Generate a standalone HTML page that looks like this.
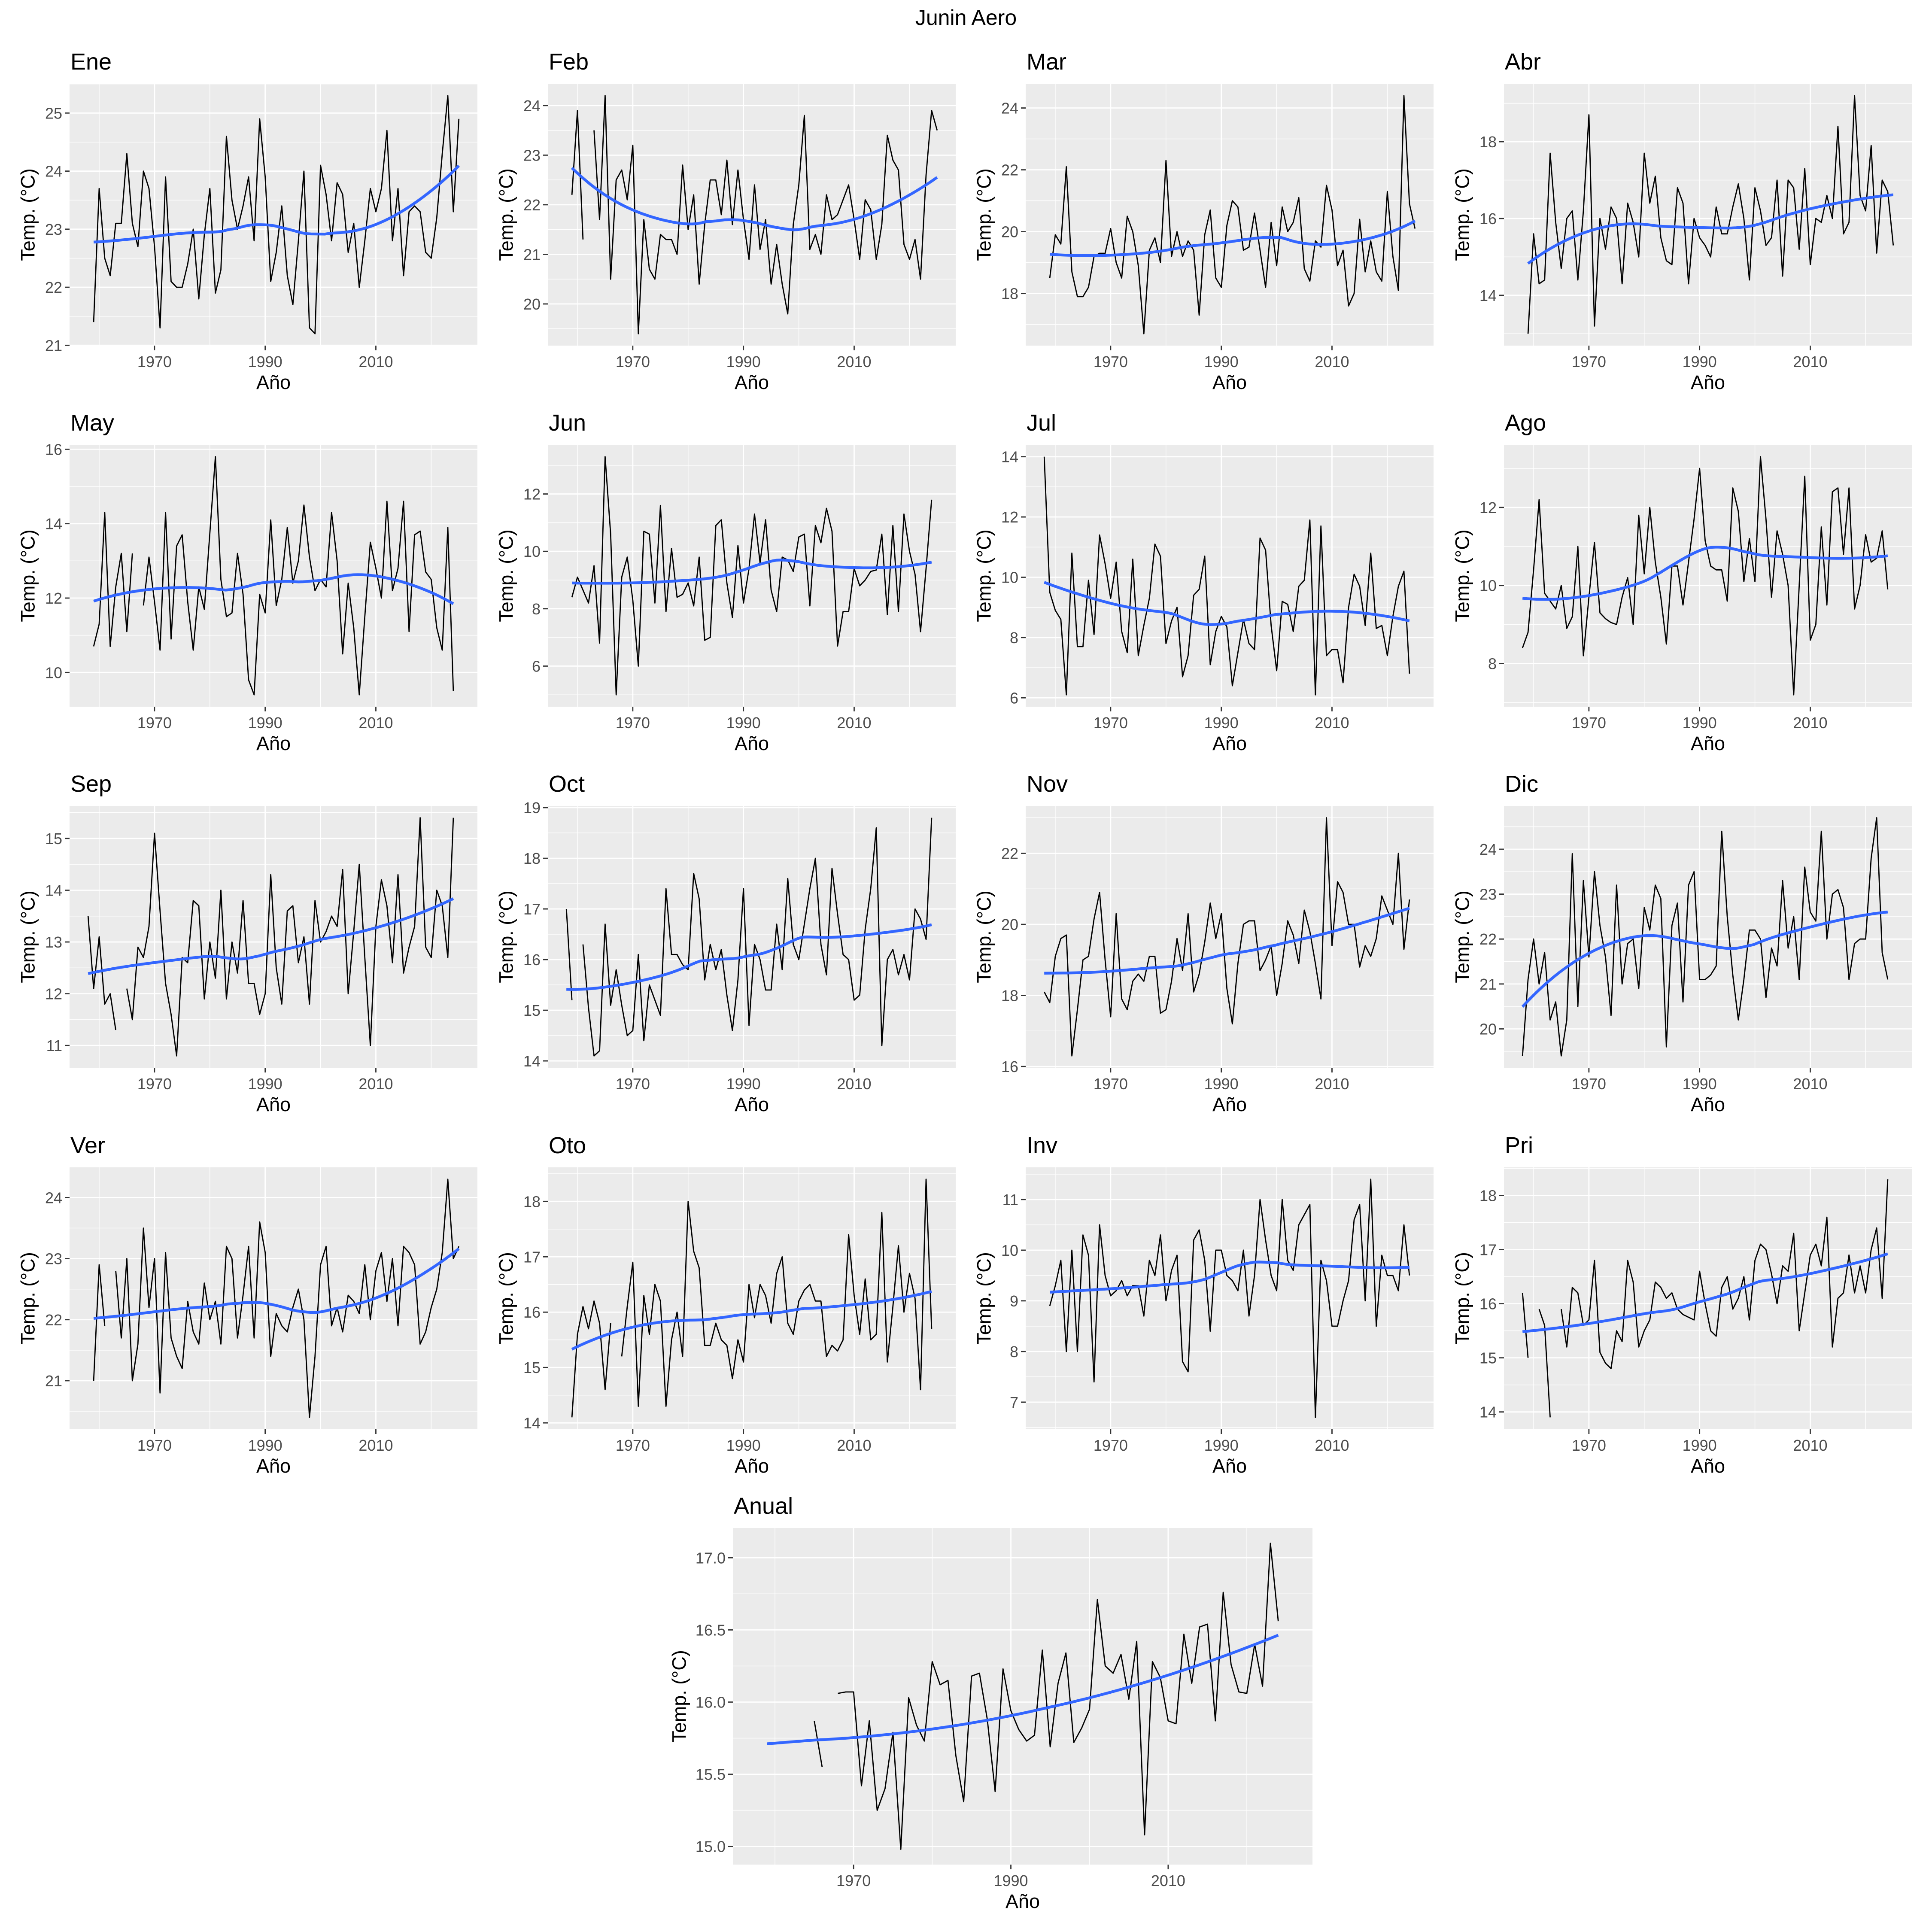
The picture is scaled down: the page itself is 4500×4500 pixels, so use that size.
<!DOCTYPE html>
<html>
<head>
<meta charset="utf-8">
<style>
html,body{margin:0;padding:0;background:#fff;}
svg{display:block;}
text{font-family:"Liberation Sans",Arial,sans-serif;}
</style>
</head>
<body>
<svg id="chart" width="4500" height="4500" viewBox="0 0 4500 4500" xmlns="http://www.w3.org/2000/svg">
<rect x="0" y="0" width="4500" height="4500" fill="#ffffff"/>
<text x="2250" y="58" text-anchor="middle" font-size="50" fill="#000">Junin Aero</text>
</svg>
<script>
// ---- data (°C per year) ----
const panelNames = ['Ene','Feb','Mar','Abr','May','Jun','Jul','Ago','Sep','Oct','Nov','Dic','Ver','Oto','Inv','Pri','Anual'];
const panelStarts = [1959,1959,1959,1959,1959,1959,1958,1958,1958,1958,1958,1958,1959,1959,1959,1958,1965];

const eneValues = [21.4,23.7,22.5,22.2,23.1,23.1,24.3,23.1,22.7,24.0,23.7,22.7,21.3,23.9,22.1,22.0,22.0,22.4,23.0,21.8,22.9,23.7,21.9,22.3,24.6,23.5,23.0,23.4,23.9,22.8,24.9,23.9,22.1,22.6,23.4,22.2,21.7,22.8,24.0,21.3,21.2,24.1,23.6,22.8,23.8,23.6,22.6,23.1,22.0,22.8,23.7,23.3,23.7,24.7,22.8,23.7,22.2,23.3,23.4,23.3,22.6,22.5,23.2,24.3,25.3,23.3,24.9];
const febValues = [22.2,23.9,21.3,null,23.5,21.7,24.2,20.5,22.5,22.7,22.1,23.2,19.4,21.7,20.7,20.5,21.4,21.3,21.3,21.0,22.8,21.5,22.2,20.4,21.6,22.5,22.5,21.8,22.9,21.6,22.7,21.7,20.9,22.4,21.1,21.7,20.4,21.2,20.4,19.8,21.6,22.4,23.8,21.1,21.4,21.0,22.2,21.7,21.8,22.1,22.4,21.7,20.9,22.1,21.9,20.9,21.6,23.4,22.9,22.7,21.2,20.9,21.3,20.5,22.6,23.9,23.5];
const marValues = [18.5,19.9,19.6,22.1,18.7,17.9,17.9,18.2,19.2,19.3,19.3,20.1,19.0,18.5,20.5,20.0,18.9,16.7,19.4,19.8,19.0,22.3,19.2,20.0,19.2,19.7,19.4,17.3,19.9,20.7,18.5,18.2,20.2,21.0,20.8,19.4,19.5,20.6,19.4,18.2,20.3,18.9,20.8,20.0,20.3,21.1,18.8,18.4,19.7,19.5,21.5,20.7,18.9,19.4,17.6,18.0,20.4,18.7,19.7,18.7,18.4,21.3,19.2,18.1,24.4,20.9,20.1];
const abrValues = [13.0,15.6,14.3,14.4,17.7,15.9,14.7,16.0,16.2,14.4,16.2,18.7,13.2,16.0,15.2,16.3,16.0,14.3,16.4,15.9,15.0,17.7,16.4,17.1,15.5,14.9,14.8,16.8,16.4,14.3,16.0,15.5,15.3,15.0,16.3,15.6,15.6,16.3,16.9,16.0,14.4,16.8,16.2,15.3,15.5,17.0,14.5,17.0,16.8,15.2,17.3,14.8,16.0,15.9,16.6,16.0,18.4,15.6,15.9,19.2,16.6,16.2,17.9,15.1,17.0,16.7,15.3];
const mayValues = [10.7,11.3,14.3,10.7,12.3,13.2,11.1,13.2,null,11.8,13.1,11.9,10.6,14.3,10.9,13.4,13.7,11.9,10.6,12.3,11.7,13.75,15.8,12.5,11.5,11.6,13.2,12.1,9.8,9.4,12.1,11.6,14.1,11.8,12.5,13.9,12.4,13.0,14.5,13.1,12.2,12.5,12.3,14.3,13.0,10.5,12.4,11.2,9.4,11.5,13.5,12.8,12.0,14.6,12.2,12.8,14.6,11.1,13.7,13.8,12.7,12.5,11.2,10.6,13.9,9.5];
const junValues = [8.4,9.1,8.65,8.2,9.5,6.8,13.3,10.6,5.0,9.1,9.8,8.3,6.0,10.7,10.6,8.2,11.6,7.9,10.1,8.4,8.5,8.9,8.1,9.8,6.9,7.0,10.9,11.1,8.9,7.7,10.2,8.2,9.4,11.3,9.6,11.1,8.65,7.9,9.8,9.7,9.3,10.5,10.6,8.1,10.9,10.3,11.5,10.7,6.7,7.9,7.9,9.4,8.8,9.0,9.3,9.35,10.6,7.8,10.9,7.9,11.3,10.0,9.2,7.2,9.4,11.8];
const julValues = [14.0,9.5,8.9,8.6,6.1,10.8,7.7,7.7,9.9,8.1,11.4,10.45,9.3,10.5,8.2,7.5,10.6,7.4,8.4,9.3,11.1,10.7,7.8,8.55,9.0,6.7,7.4,9.4,9.6,10.7,7.1,8.2,8.7,8.35,6.4,7.5,8.6,7.8,7.6,11.3,10.9,8.4,6.9,9.2,9.1,8.2,9.7,9.9,11.9,6.1,11.7,7.4,7.6,7.6,6.5,9.0,10.1,9.7,8.4,10.8,8.3,8.4,7.4,8.7,9.7,10.2,6.8];
const agoValues = [8.4,8.8,10.4,12.2,9.8,9.6,9.4,10.0,8.9,9.2,11.0,8.2,9.7,11.1,9.3,9.15,9.05,9.0,9.7,10.2,9.0,11.8,10.3,12.0,10.6,9.7,8.5,10.5,10.5,9.5,10.6,11.7,13.0,11.15,10.5,10.4,10.4,9.6,12.5,11.9,10.1,11.2,10.1,13.3,11.7,9.7,11.4,10.8,10.0,7.2,10.0,12.8,8.6,9.0,11.5,9.5,12.4,12.5,10.8,12.5,9.4,10.0,11.3,10.6,10.7,11.4,9.9];
const sepValues = [13.5,12.1,13.1,11.8,12.0,11.3,null,12.1,11.5,12.9,12.7,13.3,15.1,13.6,12.2,11.6,10.8,12.7,12.6,13.8,13.7,11.9,13.0,12.3,14.0,11.9,13.0,12.4,13.8,12.2,12.2,11.6,12.0,14.3,12.5,11.8,13.6,13.7,12.6,13.1,11.8,13.8,13.0,13.2,13.5,13.3,14.4,12.0,13.2,14.5,12.7,11.0,13.3,14.2,13.7,12.6,14.3,12.4,12.9,13.3,15.4,12.9,12.7,14.0,13.7,12.7,15.4];
const octValues = [17.0,15.2,null,16.3,15.05,14.1,14.2,16.7,15.1,15.8,15.1,14.5,14.6,16.1,14.4,15.5,15.2,14.9,17.4,16.1,16.1,15.9,15.8,17.7,17.2,15.6,16.3,15.8,16.2,15.3,14.6,15.6,17.4,14.7,16.3,16.0,15.4,15.4,16.7,15.8,17.6,16.3,16.0,16.7,17.4,18.0,16.3,15.7,17.8,16.9,16.1,16.0,15.2,15.3,16.6,17.4,18.6,14.3,16.0,16.2,15.7,16.1,15.6,17.0,16.8,16.4,18.8];
const novValues = [18.1,17.8,19.1,19.6,19.7,16.3,17.6,19.0,19.1,20.15,20.9,19.0,17.4,20.3,17.9,17.6,18.4,18.6,18.4,19.1,19.1,17.5,17.6,18.4,19.6,18.7,20.3,18.1,18.6,19.5,20.6,19.6,20.3,18.2,17.2,18.9,20.0,20.1,20.1,18.7,19.0,19.4,18.0,18.9,20.1,19.7,18.9,20.4,19.8,18.9,17.9,23.0,19.4,21.2,20.9,20.0,20.0,18.8,19.4,19.1,19.6,20.8,20.4,20.0,22.0,19.3,20.7];
const dicValues = [19.4,21.1,22.0,21.0,21.7,20.2,20.6,19.4,20.2,23.9,20.5,23.3,21.6,23.5,22.3,21.6,20.3,23.2,21.0,21.9,22.0,20.9,22.7,22.2,23.2,22.9,19.6,22.3,22.8,20.6,23.2,23.5,21.1,21.1,21.2,21.4,24.4,22.5,21.2,20.2,21.1,22.2,22.2,22.0,20.7,21.8,21.4,23.3,21.8,22.5,21.1,23.6,22.6,22.4,24.4,22.0,23.0,23.1,22.7,21.1,21.9,22.0,22.0,23.8,24.7,21.7,21.1];
const verValues = [21.0,22.9,21.9,null,22.8,21.7,23.0,21.0,21.6,23.5,22.2,23.0,20.8,23.1,21.7,21.4,21.2,22.3,21.8,21.6,22.6,22.0,22.3,21.6,23.2,23.0,21.7,22.4,23.2,21.7,23.6,23.1,21.4,22.1,21.9,21.8,22.2,22.5,22.0,20.4,21.4,22.9,23.2,21.9,22.2,21.8,22.4,22.3,22.1,22.9,22.0,22.8,23.1,22.3,23.0,21.9,23.2,23.1,22.9,21.6,21.8,22.2,22.5,23.1,24.3,23.0,23.2];
const otoValues = [14.1,15.6,16.1,15.7,16.2,15.8,14.6,15.8,null,15.2,16.1,16.9,14.3,16.3,15.6,16.5,16.2,14.3,15.5,16.0,15.2,18.0,17.1,16.8,15.4,15.4,15.8,15.5,15.4,14.8,15.5,15.1,16.5,15.9,16.5,16.3,15.8,16.7,17.0,15.8,15.6,16.2,16.4,16.5,16.2,16.2,15.2,15.4,15.3,15.5,17.4,16.3,15.6,16.6,15.5,15.6,17.8,15.1,16.1,17.2,16.0,16.7,16.25,14.6,18.4,15.7];
const invValues = [8.9,9.3,9.8,8.0,10.0,8.0,10.3,9.9,7.4,10.5,9.5,9.1,9.2,9.4,9.1,9.3,9.3,8.7,9.8,9.5,10.3,9.0,9.6,9.9,7.8,7.6,10.2,10.4,9.8,8.4,10.0,10.0,9.5,9.4,9.2,10.0,8.7,9.5,11.0,10.2,9.5,9.2,11.0,9.8,9.6,10.5,10.7,10.9,6.7,9.8,9.4,8.5,8.5,9.0,9.4,10.6,10.9,9.0,11.4,8.5,9.9,9.5,9.5,9.2,10.5,9.5];
const priValues = [16.2,15.0,null,15.9,15.6,13.9,null,15.9,15.2,16.3,16.2,15.6,15.7,16.8,15.1,14.9,14.8,15.5,15.3,16.8,16.4,15.2,15.5,15.7,16.4,16.3,16.1,16.2,15.9,15.8,15.75,15.7,16.6,16.0,15.5,15.4,16.3,16.5,15.9,16.1,16.5,15.7,16.8,17.1,17.0,16.55,16.0,16.7,16.6,17.3,15.5,16.2,16.9,17.1,16.7,17.6,15.2,16.1,16.2,16.9,16.2,16.7,16.2,17.0,17.4,16.1,18.3];
const anualValues = [15.87,15.55,null,16.06,16.07,16.07,15.42,15.87,15.25,15.40,15.79,14.98,16.03,15.84,15.73,16.28,16.12,16.15,15.63,15.31,16.18,16.20,15.88,15.38,16.23,15.94,15.81,15.73,15.77,16.36,15.69,16.13,16.34,15.72,15.82,15.95,16.71,16.25,16.20,16.33,16.02,16.42,15.08,16.28,16.17,15.87,15.85,16.47,16.13,16.52,16.54,15.87,16.76,16.26,16.07,16.06,16.40,16.11,17.10,16.56];

const panelSeries = [eneValues,febValues,marValues,abrValues,mayValues,junValues,julValues,agoValues,sepValues,octValues,novValues,dicValues,verValues,otoValues,invValues,priValues,anualValues];

const panelTicks = [
  [21,22,23,24,25],[20,21,22,23,24],[18,20,22,24],[14,16,18],
  [10,12,14,16],[6,8,10,12],[6,8,10,12,14],[8,10,12],
  [11,12,13,14,15],[14,15,16,17,18,19],[16,18,20,22],[20,21,22,23,24],
  [21,22,23,24],[14,15,16,17,18],[7,8,9,10,11],[14,15,16,17,18],
  [15.0,15.5,16.0,16.5,17.0]
];
const xTicks = [1970,1990,2010];
const xMinorTicks = [1960,1980,2000,2020];
const anualSmoothFrom = 1959;
const anualSpan = 2.0;

// ---- helpers ----
const NS = 'http://www.w3.org/2000/svg';
const svg = document.getElementById('chart');
function mk(tag, attrs, parent) {
  const e = document.createElementNS(NS, tag);
  for (const k in attrs) e.setAttribute(k, attrs[k]);
  (parent || svg).appendChild(e);
  return e;
}
function solve3(A, b) {
  const M = A.map((r, i) => r.concat([b[i]]));
  for (let i = 0; i < 3; i++) {
    let p = i;
    for (let r = i + 1; r < 3; r++) if (Math.abs(M[r][i]) > Math.abs(M[p][i])) p = r;
    [M[i], M[p]] = [M[p], M[i]];
    if (Math.abs(M[i][i]) < 1e-12) return null;
    for (let r = 0; r < 3; r++) {
      if (r === i) continue;
      const f = M[r][i] / M[i][i];
      for (let c = i; c < 4; c++) M[r][c] -= f * M[i][c];
    }
  }
  return [M[0][3] / M[0][0], M[1][3] / M[1][1], M[2][3] / M[2][2]];
}
function loessAt(xs, ys, x0, span) {
  const n = xs.length;
  const d = xs.map(x => Math.abs(x - x0));
  let h;
  if (span <= 1) {
    const q = Math.max(3, Math.floor(n * span));
    const sd = d.slice().sort((a, b) => a - b);
    h = sd[Math.min(q, n) - 1];
  } else {
    h = Math.max(...d) * span;
  }
  h = Math.max(h, 1e-9) * 1.0001;
  let S = [[0,0,0],[0,0,0],[0,0,0]], T = [0,0,0];
  for (let i = 0; i < n; i++) {
    const u = d[i] / h;
    if (u >= 1) continue;
    const w = Math.pow(1 - u * u * u, 3);
    const t = xs[i] - x0;
    const basis = [1, t, t * t];
    for (let a = 0; a < 3; a++) {
      T[a] += w * basis[a] * ys[i];
      for (let b = 0; b < 3; b++) S[a][b] += w * basis[a] * basis[b];
    }
  }
  const c = solve3(S, T);
  return c ? c[0] : NaN;
}

const colLefts = [162, 1276, 2389, 3503];
const rowTops = [195, 1036, 1877, 2719];
const X0 = 1954.65, X1 = 2028.35;

function drawPanel(idx) {
  const name = panelNames[idx];
  const start = panelStarts[idx];
  const vals = panelSeries[idx];
  const ticks = panelTicks[idx];
  const isAnual = idx === 16;
  const span = isAnual ? anualSpan : 0.75;
  let L, T, W, H;
  if (isAnual) { L = 1707; T = 3559; W = 1350; H = 784; }
  else { L = colLefts[idx % 4]; T = rowTops[Math.floor(idx / 4)]; W = 950; H = 610; }

  const xs = [], ys = [];
  vals.forEach((v, i) => { if (v !== null) { xs.push(start + i); ys.push(v); } });
  const dFrom = xs[0];
  const sTo = xs[xs.length - 1];
  const sm = [];
  const NPTS = 80;
  for (let k = 0; k < NPTS; k++) {
    const x = dFrom + (sTo - dFrom) * k / (NPTS - 1);
    sm.push([x, loessAt(xs, ys, x, span)]);
  }
  if (isAnual && anualSmoothFrom < dFrom) {
    const y0 = sm[0][1];
    const y1 = loessAt(xs, ys, dFrom + 10, span);
    const slope = (y1 - y0) / 10;
    const ext = [];
    for (let x = anualSmoothFrom; x < dFrom; x += 1) ext.push([x, y0 + slope * (x - dFrom)]);
    sm.unshift(...ext);
  }
  let ymin = Math.min(...ys, ...sm.map(p => p[1]));
  let ymax = Math.max(...ys, ...sm.map(p => p[1]));
  const pad = (ymax - ymin) * 0.05;
  ymin -= pad; ymax += pad;
  const sx = x => L + (x - X0) / (X1 - X0) * W;
  const sy = y => T + H - (y - ymin) / (ymax - ymin) * H;

  const g = mk('g', {});
  
  

  const bg = mk('rect', {x: L, y: T, width: W, height: H, fill: '#EBEBEB'}, g);
  
  

  const step = ticks[1] - ticks[0];
  const minorY = [];
  for (let v = ticks[0] - step / 2; v <= ticks[ticks.length - 1] + step / 2 + 1e-9; v += step) minorY.push(v);
  minorY.forEach(v => {
    if (v < ymin || v > ymax) return;
    const ln = mk('line', {x1: L, x2: L + W, y1: sy(v), y2: sy(v), stroke: '#fff', 'stroke-width': 1.4}, g);
    
    
  });
  xMinorTicks.forEach(v => {
    const ln = mk('line', {x1: sx(v), x2: sx(v), y1: T, y2: T + H, stroke: '#fff', 'stroke-width': 1.4}, g);
    
    
  });
  ticks.forEach(v => {
    if (v < ymin || v > ymax) return;
    const ln = mk('line', {x1: L, x2: L + W, y1: sy(v), y2: sy(v), stroke: '#fff', 'stroke-width': 2.8}, g);
    
    
    const tk = mk('line', {x1: L - 11, x2: L, y1: sy(v), y2: sy(v), stroke: '#333', 'stroke-width': 2.8}, g);
    
    
    const lb = mk('text', {x: L - 17, y: sy(v) + 13, 'text-anchor': 'end', 'font-size': 36, fill: '#4D4D4D'}, g);
    lb.textContent = isAnual ? v.toFixed(1) : String(v);
    
    
  });
  xTicks.forEach(v => {
    const ln = mk('line', {x1: sx(v), x2: sx(v), y1: T, y2: T + H, stroke: '#fff', 'stroke-width': 2.8}, g);
    
    
    const tk = mk('line', {x1: sx(v), x2: sx(v), y1: T + H, y2: T + H + 11, stroke: '#333', 'stroke-width': 2.8}, g);
    
    
    const lb = mk('text', {x: sx(v), y: T + H + 50, 'text-anchor': 'middle', 'font-size': 36, fill: '#4D4D4D'}, g);
    lb.textContent = String(v);
    
    
  });

  let d = '', pen = false;
  vals.forEach((v, i) => {
    if (v === null) { pen = false; return; }
    d += (pen ? 'L' : 'M') + sx(start + i).toFixed(1) + ',' + sy(v).toFixed(1);
    pen = true;
  });
  const line = mk('path', {d: d, fill: 'none', stroke: '#000', 'stroke-width': 2.8, 'stroke-linejoin': 'round'}, g);
  
  

  const sd = sm.map((p, k) => (k ? 'L' : 'M') + sx(p[0]).toFixed(1) + ',' + sy(p[1]).toFixed(1)).join('');
  const smooth = mk('path', {d: sd, fill: 'none', stroke: '#3366FF', 'stroke-width': 6.5, 'stroke-linecap': 'butt'}, g);
  
  

  const title = mk('text', {x: L + 2, y: T - 33, 'font-size': 54, fill: '#000'}, g);
  title.textContent = name;
  
  

  const xt = mk('text', {x: L + W / 2, y: T + H + 101, 'text-anchor': 'middle', 'font-size': 45, fill: '#000'}, g);
  xt.textContent = 'Año';
  
  

  const off = isAnual ? 125 : 97;
  const cy = T + H / 2;
  const yt = mk('text', {x: L - off, y: cy, 'text-anchor': 'middle', 'dominant-baseline': 'central', 'font-size': 45, fill: '#000', transform: 'rotate(-90 ' + (L - off) + ' ' + cy + ')'}, g);
  yt.textContent = 'Temp. (°C)';
  
  
}

for (let i = 0; i < panelNames.length; i++) drawPanel(i);
</script>
</body>
</html>
